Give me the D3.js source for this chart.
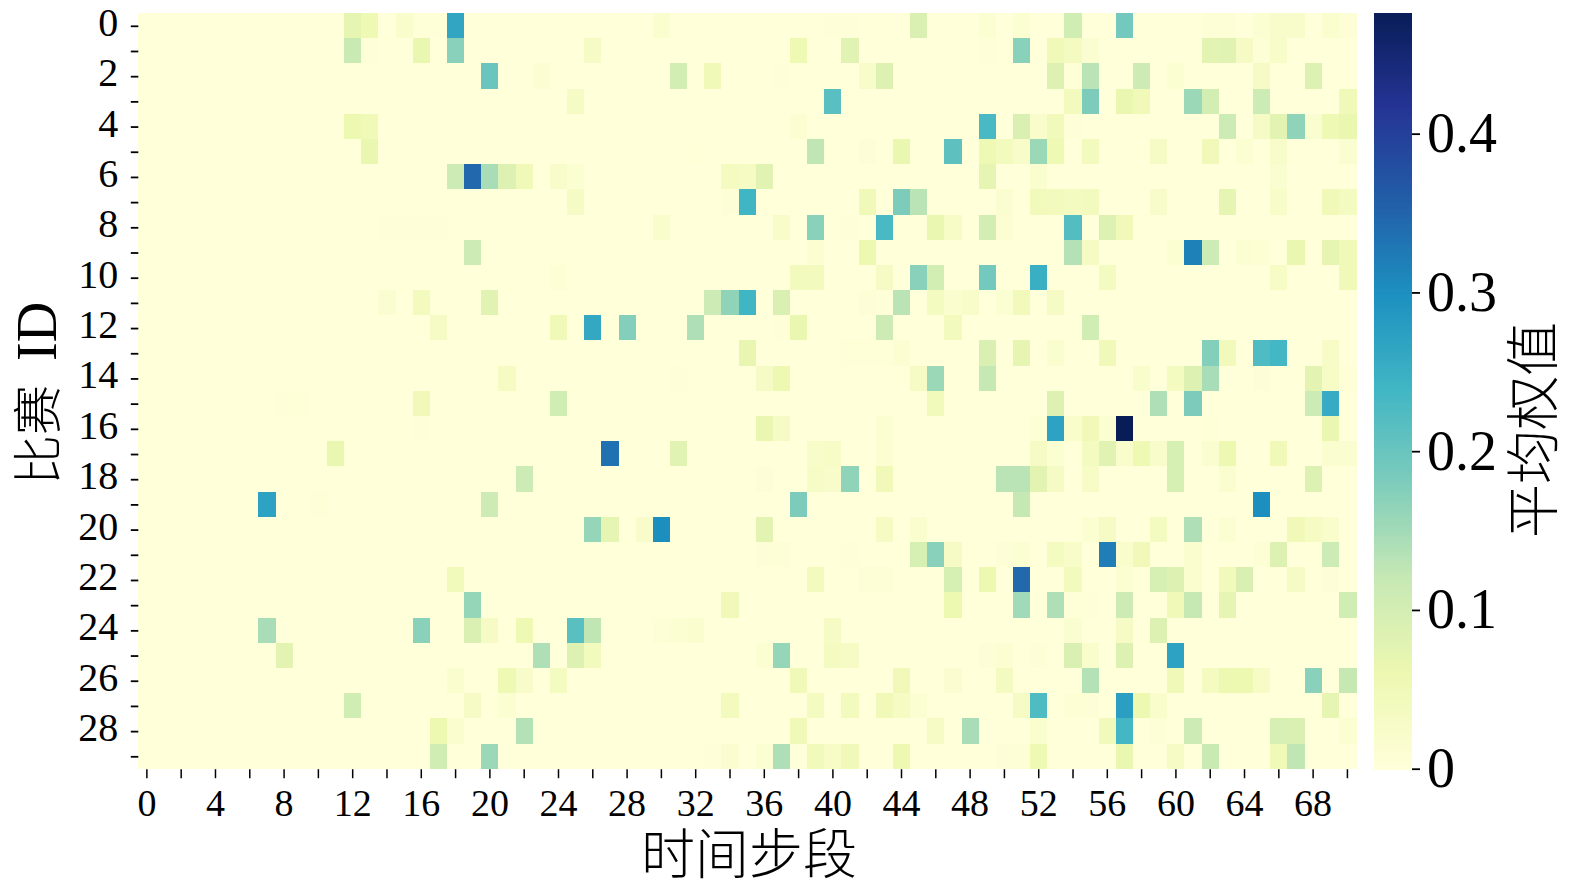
<!DOCTYPE html>
<html><head><meta charset="utf-8">
<script src="https://cdn.jsdelivr.net/npm/d3@7/dist/d3.min.js"></script>
<style>html,body{margin:0;padding:0;background:#fff;overflow:hidden}svg{display:block}</style>
</head><body><svg id="c" width="1575" height="885"></svg>
<script>
const columns = d3.range(71);
const matches = d3.range(30);
const xTickValues = d3.range(0, 71, 2);
const yTickValues = d3.range(0, 30);
const barTicks = [0, 0.1, 0.2, 0.3, 0.4];
const maxWeight = 0.476;
const palette = ["#ffffd9","#edf8b1","#c7e9b4","#7fcdbb","#41b6c4","#1d91c0","#225ea8","#253494","#081d58"];
// non-zero cells per match: [time step, mean weight]
const m00=[[12,.07],[13,.055],[15,.02],[16,.003],[17,.003],[18,.265],[30,.018],[40,.002],[41,.002],[45,.09],[49,.012],[51,.012],[54,.105],[57,.19],[62,.005],[63,.005],[65,.012],[66,.022],[67,.022],[69,.018],[70,.006]];
const m01=[[12,.115],[13,.003],[16,.065],[18,.17],[26,.03],[38,.055],[41,.08],[49,.002],[51,.17],[53,.05],[54,.035],[55,.015],[62,.075],[63,.08],[64,.03],[65,.005],[66,.025]];
const m02=[[20,.2],[23,.01],[31,.1],[33,.05],[37,.002],[42,.025],[43,.085],[53,.085],[54,.003],[55,.13],[58,.11],[60,.012],[65,.03],[68,.085]];
const m03=[[25,.03],[40,.215],[54,.04],[55,.18],[57,.065],[58,.05],[61,.155],[62,.1],[65,.11],[70,.05]];
const m04=[[12,.06],[13,.05],[38,.01],[49,.23],[51,.09],[52,.02],[53,.045],[54,.004],[63,.11],[65,.03],[66,.075],[67,.165],[68,.015],[69,.055],[70,.065]];
const m05=[[13,.065],[32,.001],[39,.125],[42,.006],[44,.065],[47,.21],[49,.055],[50,.04],[51,.025],[52,.155],[53,.055],[55,.04],[59,.03],[62,.05],[64,.012],[66,.022],[70,.015]];
const m06=[[18,.11],[19,.345],[20,.145],[21,.085],[22,.05],[24,.022],[25,.012],[34,.035],[35,.033],[36,.08],[49,.07],[52,.018],[66,.015]];
const m07=[[25,.03],[34,.006],[35,.24],[42,.05],[44,.18],[45,.13],[50,.015],[52,.045],[53,.042],[54,.037],[55,.04],[59,.022],[63,.07],[66,.025],[69,.05],[70,.035]];
const m08=[[14,.002],[15,.002],[16,.002],[17,.002],[30,.02],[37,.025],[39,.17],[41,.002],[43,.23],[46,.065],[47,.028],[49,.1],[50,.01],[54,.22],[56,.085],[57,.05]];
const m09=[[19,.11],[39,.01],[42,.06],[54,.135],[55,.032],[60,.012],[61,.315],[62,.11],[64,.012],[65,.008],[67,.065],[69,.07],[70,.05]];
const m10=[[24,.008],[38,.04],[39,.04],[43,.03],[45,.17],[46,.1],[49,.19],[52,.25],[56,.035],[66,.028],[70,.05]];
const m11=[[14,.015],[16,.04],[20,.08],[33,.11],[34,.165],[35,.24],[37,.09],[42,.006],[43,.002],[44,.13],[46,.035],[47,.018],[48,.025],[50,.012],[51,.045],[53,.03]];
const m12=[[17,.03],[24,.05],[26,.26],[28,.175],[32,.14],[37,.004],[38,.065],[43,.11],[47,.04],[55,.105]];
const m13=[[35,.068],[41,.003],[42,.003],[43,.003],[44,.01],[49,.09],[51,.07],[53,.018],[56,.05],[62,.175],[63,.045],[65,.225],[66,.235],[69,.028]];
const m14=[[21,.033],[31,.002],[36,.03],[37,.06],[45,.03],[46,.155],[49,.12],[58,.02],[60,.035],[61,.085],[62,.145],[65,.005],[68,.075],[69,.028],[70,.004]];
const m15=[[8,.003],[9,.003],[16,.05],[24,.105],[46,.045],[53,.085],[59,.14],[61,.18],[68,.11],[69,.255]];
const m16=[[13,.001],[16,.002],[36,.065],[37,.03],[43,.012],[52,.008],[53,.27],[54,.02],[55,.05],[56,.012],[57,.476],[62,.004],[69,.065]];
const m17=[[11,.065],[27,.335],[31,.08],[39,.025],[40,.028],[43,.01],[52,.03],[53,.012],[55,.035],[56,.08],[57,.02],[58,.055],[59,.022],[60,.095],[62,.015],[63,.06],[66,.05],[69,.018],[70,.015]];
const m18=[[22,.11],[36,.006],[39,.028],[40,.022],[41,.165],[43,.05],[50,.13],[51,.13],[52,.075],[53,.03],[55,.028],[60,.095],[63,.018],[68,.085]];
const m19=[[7,.27],[10,.003],[20,.11],[38,.18],[51,.12],[65,.3]];
const m20=[[26,.16],[27,.07],[29,.022],[30,.3],[36,.075],[43,.033],[45,.018],[55,.012],[56,.03],[59,.035],[61,.14],[63,.012],[67,.05],[68,.033],[69,.02]];
const m21=[[36,.006],[37,.006],[41,.003],[45,.095],[46,.17],[47,.03],[50,.006],[51,.012],[53,.035],[54,.025],[56,.32],[57,.02],[58,.05],[61,.018],[65,.008],[66,.085],[69,.11]];
const m22=[[18,.045],[39,.04],[42,.006],[43,.006],[47,.095],[49,.06],[51,.345],[54,.04],[57,.012],[59,.095],[60,.085],[61,.018],[63,.045],[64,.09],[67,.03],[69,.006]];
const m23=[[19,.16],[34,.05],[47,.06],[51,.15],[53,.14],[54,.003],[55,.003],[57,.11],[60,.05],[61,.12],[63,.07],[70,.105]];
const m24=[[7,.145],[16,.17],[19,.09],[20,.03],[22,.055],[25,.215],[26,.125],[30,.005],[31,.012],[32,.018],[40,.03],[54,.015],[57,.03],[59,.085]];
const m25=[[8,.075],[23,.14],[25,.085],[26,.04],[36,.012],[37,.16],[40,.035],[41,.03],[49,.005],[50,.01],[52,.006],[54,.09],[55,.02],[57,.085],[60,.27]];
const m26=[[18,.018],[21,.055],[22,.022],[24,.035],[38,.05],[44,.05],[47,.014],[50,.035],[55,.135],[60,.05],[62,.035],[63,.06],[64,.06],[65,.028],[68,.17],[70,.12]];
const m27=[[12,.105],[19,.03],[21,.012],[34,.04],[39,.035],[41,.04],[43,.05],[44,.033],[45,.012],[51,.03],[52,.225],[54,.008],[55,.005],[57,.275],[58,.06],[59,.02],[69,.07]];
const m28=[[17,.06],[18,.016],[22,.135],[38,.05],[46,.03],[48,.145],[52,.018],[56,.045],[57,.235],[59,.006],[61,.11],[66,.095],[67,.09],[70,.012]];
const m29=[[17,.105],[20,.155],[33,.002],[34,.014],[36,.012],[37,.14],[39,.045],[40,.028],[41,.05],[44,.06],[50,.005],[51,.005],[52,.055],[57,.065],[60,.03],[62,.115],[66,.05],[67,.125]];
const allMatches=[m00,m01,m02,m03,m04,m05,m06,m07,m08,m09,m10,m11,m12,m13,m14,m15,m16,m17,m18,m19,m20,m21,m22,m23,m24,m25,m26,m27,m28,m29];

const serif = '"Liberation Serif", serif';
const cjk = '"Noto Sans CJK SC", sans-serif';
const L=138.3,R=1356,T=13,B=768.7;
const x=d3.scaleBand().domain(columns).range([L,R]);
const y=d3.scaleBand().domain(matches).range([T,B]);
const colourAt=d3.piecewise(d3.interpolateRgb,palette);
const colour=d3.scaleSequential(colourAt).domain([0,maxWeight]);
const svg=d3.select('#c');
svg.append('rect').attr('width',1575).attr('height',885).attr('fill','#fff');

const grid=[];
matches.forEach(r=>{const lookup=new Map(allMatches[r]);columns.forEach(c=>grid.push({r,c,v:lookup.get(c)||0}));});
svg.append('g').attr('shape-rendering','crispEdges').selectAll('rect').data(grid).join('rect')
  .attr('x',d=>x(d.c)).attr('y',d=>y(d.r)).attr('width',x.bandwidth()+.5).attr('height',y.bandwidth()+.5)
  .attr('fill',d=>colour(d.v));

function styleTicks(g,w){g.select('.domain').remove();g.selectAll('line').attr('stroke','#000').attr('stroke-width',w);}
const gx=svg.append('g').attr('transform',`translate(0,${B+.5})`)
  .call(d3.axisBottom(x).tickValues(xTickValues).tickSize(9).tickFormat(d=>d%4===0?d:''));
styleTicks(gx,1.5);
gx.selectAll('text').attr('font-family',serif).attr('font-size',38).attr('fill','#000').attr('y',0).attr('dy',47).attr('text-anchor','middle');

const gy=svg.append('g').attr('transform',`translate(${L},0.7)`)
  .call(d3.axisLeft(y).tickValues(yTickValues).tickSize(7.5).tickFormat(d=>d%2===0?d:''));
styleTicks(gy,1.8);
gy.selectAll('text').attr('font-family',serif).attr('font-size',40).attr('fill','#000').attr('x',-20).attr('dy',9.5).attr('text-anchor','end');

const cbL=1374.3,cbR=1412;
const cbY=d3.scaleLinear().domain([0,maxWeight]).range([B,T]);
const stops=d3.range(0,256).map(i=>i/256*maxWeight);
svg.append('g').attr('shape-rendering','crispEdges').selectAll('rect').data(stops).join('rect')
  .attr('x',cbL).attr('width',cbR-cbL)
  .attr('y',d=>cbY(d+maxWeight/256)).attr('height',(B-T)/256+1)
  .attr('fill',d=>colour(d));
const gc=svg.append('g').attr('transform',`translate(${cbR},0)`)
  .call(d3.axisRight(cbY).tickValues(barTicks).tickSize(8).tickFormat(d=>d===0?'0':d3.format('.1f')(d)));
styleTicks(gc,1.8);
gc.selectAll('text').attr('font-family',serif).attr('font-size',56).attr('fill','#000').attr('x',15).attr('dy',18).attr('text-anchor','start');

svg.append('text').attr('x',749).attr('y',874).attr('text-anchor','middle')
  .attr('font-family',cjk).attr('font-size',54).attr('font-weight',300).attr('fill','#000').text('时间步段');
const yl=svg.append('text').attr('transform','translate(56,485) rotate(-90)').attr('fill','#000');
yl.append('tspan').attr('font-family',cjk).attr('font-size',50).attr('font-weight',300).text('比赛');
yl.append('tspan').attr('font-family',serif).attr('font-size',56).attr('dx',24).text('ID');
svg.append('text').attr('transform','translate(1553,430) rotate(-90)').attr('text-anchor','middle')
  .attr('font-family',cjk).attr('font-size',54).attr('font-weight',300).attr('fill','#000').text('平均权值');
</script></body></html>
